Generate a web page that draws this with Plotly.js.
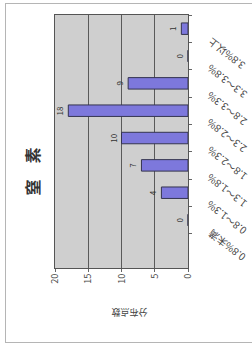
<!DOCTYPE html>
<html>
<head>
<meta charset="utf-8">
<script src="https://cdn.plot.ly/plotly-3.0.1.min.js"></script>
<style>
  html, body { margin: 0; padding: 0; width: 252px; height: 350px; overflow: hidden; background: #fff; }
  #wrap { position: absolute; left: 0; top: 350px; width: 350px; height: 252px;
          transform-origin: 0 0; transform: rotate(-90deg); }
  #frame { position: absolute; left: 7px; top: 5px; width: 340px; height: 262px;
           border: 1px solid #b5b5b5; box-sizing: border-box; }
  #chart { position: absolute; left: 0; top: 0; width: 350px; height: 252px; }
</style>
</head>
<body>
<div id="wrap">
  <div id="chart"></div>
  <div id="frame"></div>
</div>
<script>
// Data (original chart orientation: categories along x, counts along y)
const categories = ['0.8%未満', '0.8～1.3%', '1.3～1.8%', '1.8～2.3%', '2.3～2.8%', '2.8～3.3%', '3.3～3.8%', '3.8%以上'];
const counts = [0, 4, 7, 10, 18, 9, 0, 1];
const yTicks = [0, 5, 10, 15, 20];
const chartTitle = '窒　素';
const yTitle = '分布点数';

const font = '"Noto Sans CJK JP", "Noto Sans", sans-serif';

const trace = {
  type: 'bar',
  x: categories,
  y: counts,
  width: 0.42,
  marker: { color: '#7d78dc', line: { color: '#34344f', width: 1 } },
  text: counts.map(String),
  textposition: 'outside',
  textangle: 0,
  cliponaxis: false,
  textfont: { family: font, size: 8, color: '#333' },
  hoverinfo: 'none'
};

// category labels drawn as angled annotations below the plot
const catLabels = categories.map(c => ({
  text: c,
  xref: 'x', yref: 'paper',
  x: c, y: 0,
  xshift: -26, yshift: -38,
  xanchor: 'center', yanchor: 'middle',
  textangle: -52, showarrow: false,
  font: { family: font, size: 10, color: '#444' }
}));

const layout = {
  width: 350,
  height: 252,
  margin: { l: 82, r: 15, t: 55, b: 64 },
  paper_bgcolor: 'rgba(0,0,0,0)',
  plot_bgcolor: '#cfcfcf',
  showlegend: false,
  title: {
    text: chartTitle,
    font: { family: font, size: 16, color: '#333', weight: 'bold' },
    xref: 'container', x: 0.51,
    yref: 'container', y: 1 - 33 / 252, yanchor: 'middle'
  },
  xaxis: {
    type: 'category',
    showticklabels: false,
    showline: true, linecolor: '#555', linewidth: 1, mirror: true,
    ticks: 'outside', ticklen: 3, tickcolor: '#666', tickson: 'boundaries',
    showgrid: false, automargin: false
  },
  yaxis: {
    range: [0, 20],
    tickvals: yTicks,
    ticktext: yTicks.map(String),
    tickfont: { family: font, size: 9, color: '#444' },
    showline: true, linecolor: '#555', linewidth: 1, mirror: true,
    ticks: 'outside', ticklen: 3, tickcolor: '#666',
    showgrid: true, gridcolor: '#5a5a5a', gridwidth: 1,
    zeroline: false, automargin: false
  },
  annotations: [{
    text: yTitle,
    xref: 'paper', yref: 'paper',
    x: (37 - 82) / 253, y: 0.44,
    xanchor: 'center', yanchor: 'middle',
    textangle: -90, showarrow: false,
    font: { family: font, size: 9, color: '#444' }
  }].concat(catLabels)
};

Plotly.newPlot('chart', [trace], layout, { staticPlot: true, displayModeBar: false });
</script>
</body>
</html>
